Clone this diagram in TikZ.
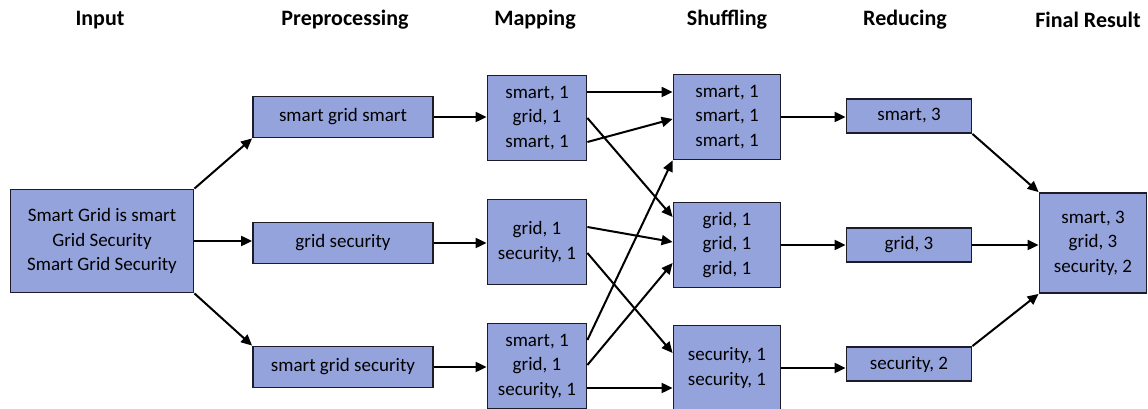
\documentclass[tikz,border=0pt]{standalone}
\usepackage{fontspec}
\setmainfont{Carlito}
\usetikzlibrary{arrows.meta}
\definecolor{boxfill}{HTML}{95A3DC}
\definecolor{boxline}{HTML}{1C1C28}
\begin{document}
\begin{tikzpicture}[
        x=1pt, y=1pt,
        box/.style={draw=boxline, line width=1.8pt, fill=boxfill, align=center,
            inner sep=0pt, font=\fontsize{19}{24.5}\selectfont},
        head/.style={font=\fontsize{22}{26}\selectfont\bfseries},
        arr/.style={line width=2pt, -{Triangle[length=11pt,width=10pt]}}
    ]
    \useasboundingbox (0,0) rectangle (1148,409);

    % column titles
    \node[head] (tIn) at (100,389) {Input};
    \node[head] (tPre) at (345,389) {Preprocessing};
    \node[head] (tMap) at (535,389) {Mapping};
    \node[head] (tShuf) at (727,389) {Shuffling};
    \node[head] (tRed) at (905,389) {Reducing};
    \node[head] (tFin) at (1088,389) {Final Result};

    % input
    \node[box, minimum width=183, minimum height=103] (in) at (102,168)
        {Smart Grid is smart\\Grid Security\\Smart Grid Security};

    % preprocessing
    \node[box, minimum width=180, minimum height=41] (preA) at (343,292) {smart grid smart};
    \node[box, minimum width=180, minimum height=41] (preB) at (343,166) {grid security};
    \node[box, minimum width=180, minimum height=41] (preC) at (343,42) {smart grid security};

    % mapping
    \node[box, minimum width=99, minimum height=85] (mapA) at (537,291) {smart, 1\\grid, 1\\smart, 1};
    \node[box, minimum width=99, minimum height=85] (mapB) at (537,167) {grid, 1\\security, 1};
    \node[box, minimum width=99, minimum height=85] (mapC) at (537,43) {smart, 1\\grid, 1\\security, 1};

    % shuffling
    \node[box, minimum width=107, minimum height=85] (shufA) at (727,292) {smart, 1\\smart, 1\\smart, 1};
    \node[box, minimum width=107, minimum height=85] (shufB) at (727,164) {grid, 1\\grid, 1\\grid, 1};
    \node[box, minimum width=107, minimum height=85] (shufC) at (727,41) {security, 1\\security, 1};

    % reducing
    \node[box, minimum width=125, minimum height=34] (redA) at (909,293) {smart, 3};
    \node[box, minimum width=125, minimum height=34] (redB) at (909,164) {grid, 3};
    \node[box, minimum width=125, minimum height=34] (redC) at (909,45) {security, 2};

    % final result
    \node[box, minimum width=107, minimum height=100] (fin) at (1093,166) {smart, 3\\grid, 3\\security, 2};

    \draw[arr] (in.north east) -- (preA.south west);
    \draw[arr] (in.east) -- (in.east -| preB.west);
    \draw[arr] (in.south east) -- (preC.north west);

    \draw[arr] (preA.east) -- (preA.east -| mapA.west);
    \draw[arr] (preB.east) -- (preB.east -| mapB.west);
    \draw[arr] (preC.east) -- (preC.east -| mapC.west);

    \draw[arr] ([yshift=26pt]mapA.east) -- ([yshift=25pt]shufA.west);
    \draw[arr] (mapA.east) -- ([yshift=28pt]shufB.west);
    \draw[arr] ([yshift=-24pt]mapA.east) -- ([yshift=-2pt]shufA.west);
    \draw[arr] ([yshift=15pt]mapB.east) -- ([yshift=3pt]shufB.west);
    \draw[arr] ([yshift=-11pt]mapB.east) -- ([yshift=15pt]shufC.west);
    \draw[arr] ([yshift=26pt]mapC.east) -- (shufA.south west);
    \draw[arr] ([yshift=1pt]mapC.east) -- ([yshift=-18pt]shufB.west);
    \draw[arr] ([yshift=-22pt]mapC.east) -- ([yshift=-20pt]shufC.west);

    \draw[arr] (shufA.east) -- (shufA.east -| redA.west);
    \draw[arr] (shufB.east) -- (shufB.east -| redB.west);
    \draw[arr] (shufC.east) -- (shufC.east -| redC.west);

    \draw[arr] (redA.south east) -- (fin.north west);
    \draw[arr] (redB.east) -- (redB.east -| fin.west);
    \draw[arr] (redC.north east) -- (fin.south west);
\end{tikzpicture}
\end{document}
